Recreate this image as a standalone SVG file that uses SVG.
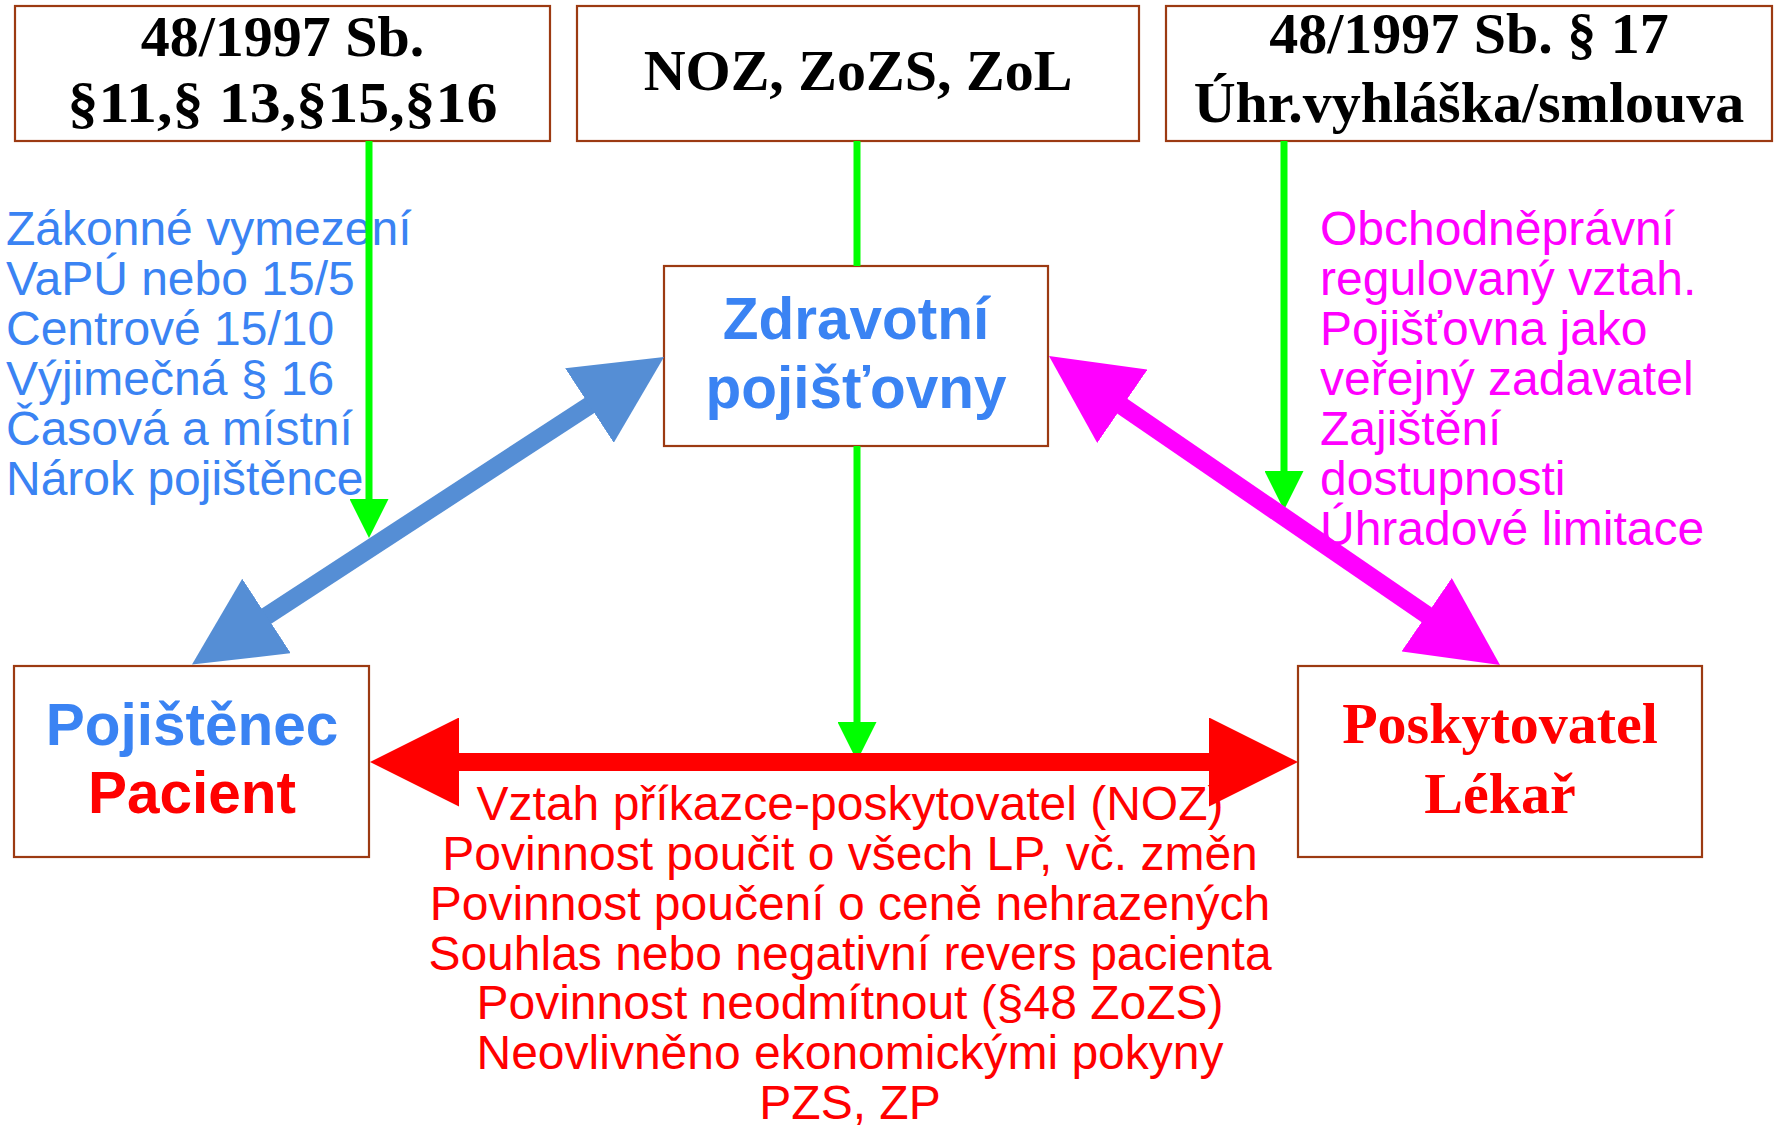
<svg xmlns="http://www.w3.org/2000/svg" width="1777" height="1125" viewBox="0 0 1777 1125">
<defs>
<style>
.box{fill:#ffffff;stroke:#9C3A12;stroke-width:2.2}
.serifB{font-family:"Liberation Serif","Times New Roman",serif;font-weight:bold;font-size:58px;text-anchor:middle;fill:#000}
.sansB{font-family:"Liberation Sans",Arial,sans-serif;font-weight:bold;font-size:58.5px;text-anchor:middle}
.sans{font-family:"Liberation Sans",Arial,sans-serif;font-size:48px}
.blue{fill:#3A83F3}
.red{fill:#FF0000}
.mag{fill:#FF00FF}
.green{stroke:#00FF00;stroke-width:7;fill:none}
.thick{stroke-width:18;fill:none}
</style>
<marker id="hg" markerUnits="userSpaceOnUse" markerWidth="39" markerHeight="39" viewBox="0 0 39 39" refX="0" refY="19.5" orient="auto"><path d="M0,0 L39,19.5 L0,39 z" fill="#00FF00"/></marker>
<marker id="hb" markerUnits="userSpaceOnUse" markerWidth="89" markerHeight="89" viewBox="0 0 89 89" refX="44" refY="44.5" orient="auto-start-reverse"><path d="M0,0 L89,44.5 L0,89 z" fill="#558ED5"/></marker>
<marker id="hm" markerUnits="userSpaceOnUse" markerWidth="89" markerHeight="89" viewBox="0 0 89 89" refX="44" refY="44.5" orient="auto-start-reverse"><path d="M0,0 L89,44.5 L0,89 z" fill="#FF00FF"/></marker>
<marker id="hr" markerUnits="userSpaceOnUse" markerWidth="89" markerHeight="89" viewBox="0 0 89 89" refX="44" refY="44.5" orient="auto-start-reverse"><path d="M0,0 L89,44.5 L0,89 z" fill="#FF0000"/></marker>
</defs>
<rect width="1777" height="1125" fill="#ffffff"/>

<g id="law-left">
<rect class="box" x="15" y="6" width="535" height="135"/>
<text class="serifB" x="282.5" y="56">48/1997 Sb.</text>
<text class="serifB" x="282.5" y="122" textLength="430" lengthAdjust="spacingAndGlyphs">§11,§ 13,§15,§16</text>
</g>
<g id="law-mid">
<rect class="box" x="577" y="6" width="562" height="135"/>
<text class="serifB" x="858" y="90">NOZ, ZoZS, ZoL</text>
</g>
<g id="law-right">
<rect class="box" x="1166" y="6" width="606" height="135"/>
<text class="serifB" x="1469" y="53">48/1997 Sb. § 17</text>
<text class="serifB" x="1469" y="122">Úhr.vyhláška/smlouva</text>
</g>
<g id="zp">
<rect class="box" x="664" y="266" width="384" height="180"/>
<text class="sansB blue" x="856" y="339">Zdravotní</text>
<text class="sansB blue" x="856" y="408">pojišťovny</text>
</g>
<g id="pacient">
<rect class="box" x="14" y="666" width="355" height="191"/>
<text class="sansB blue" x="192" y="745">Pojištěnec</text>
<text class="sansB red" x="192" y="813">Pacient</text>
</g>
<g id="poskytovatel">
<rect class="box" x="1298" y="666" width="404" height="191"/>
<text class="serifB red" x="1500" y="743">Poskytovatel</text>
<text class="serifB red" x="1500" y="813">Lékař</text>
</g>

<g id="label-left" class="sans blue">
<text x="6" y="245">Zákonné vymezení</text>
<text x="6" y="295">VaPÚ nebo 15/5</text>
<text x="6" y="345">Centrové 15/10</text>
<text x="6" y="395">Výjimečná § 16</text>
<text x="6" y="445">Časová a místní</text>
<text x="6" y="495">Nárok pojištěnce</text>
</g>
<g id="label-right" class="sans mag">
<text x="1320" y="245">Obchodněprávní</text>
<text x="1320" y="295">regulovaný vztah.</text>
<text x="1320" y="345">Pojišťovna jako</text>
<text x="1320" y="395">veřejný zadavatel</text>
<text x="1320" y="445">Zajištění</text>
<text x="1320" y="495">dostupnosti</text>
<text x="1320" y="545">Úhradové limitace</text>
</g>
<g id="label-bottom" class="sans red" text-anchor="middle">
<text x="850" y="820">Vztah příkazce-poskytovatel (NOZ)</text>
<text x="850" y="870">Povinnost poučit o všech LP, vč. změn</text>
<text x="850" y="920">Povinnost poučení o ceně nehrazených</text>
<text x="850" y="970">Souhlas nebo negativní revers pacienta</text>
<text x="850" y="1019">Povinnost neodmítnout (§48 ZoZS)</text>
<text x="850" y="1069">Neovlivněno ekonomickými pokyny</text>
<text x="850" y="1119">PZS, ZP</text>
</g>

<g id="connectors">
<line class="green" x1="369" y1="141" x2="369" y2="499" marker-end="url(#hg)"/>
<line class="green" x1="857" y1="141" x2="857" y2="266"/>
<line class="green" x1="857" y1="446" x2="857" y2="722" marker-end="url(#hg)"/>
<line class="green" x1="1284" y1="141" x2="1284" y2="471" marker-end="url(#hg)"/>
<line class="thick" stroke="#558ED5" x1="229.7" y1="640" x2="626.3" y2="381.5" marker-start="url(#hb)" marker-end="url(#hb)"/>
<line class="thick" stroke="#FF00FF" x1="1086.1" y1="381.4" x2="1462.9" y2="639.6" marker-start="url(#hm)" marker-end="url(#hm)"/>
<line class="thick" stroke="#FF0000" x1="415" y1="762" x2="1253" y2="762" marker-start="url(#hr)" marker-end="url(#hr)"/>
</g>
</svg>
